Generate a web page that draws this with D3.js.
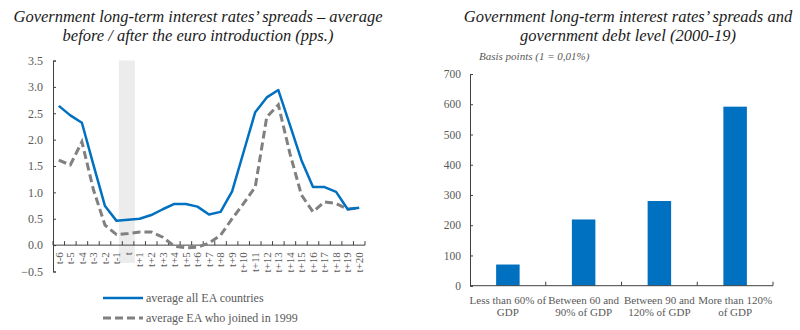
<html>
<head>
<meta charset="utf-8">
<style>
body { margin: 0; background: #ffffff; }
svg text { font-family: "Liberation Serif", "Times New Roman", serif; }
.title { font-style: italic; font-size: 16.5px; fill: #1a1a1a; }
.tick text { fill: #595959; }
</style>
</head>
<body>
<div id="chart"></div>
<script src="https://d3js.org/d3.v7.min.js"></script>
<script type="text/javascript">
// ---- data: left chart (pps.)
var periods = ["t-6","t-5","t-4","t-3","t-2","t-1","t","t+1","t+2","t+3","t+4","t+5","t+6","t+7",
               "t+8","t+9","t+10","t+11","t+12","t+13","t+14","t+15","t+16","t+17","t+18","t+19","t+20"];
var allEA = [2.64,2.46,2.32,1.52,0.74,0.46,0.48,0.50,0.57,0.68,0.78,0.78,0.73,0.58,
             0.63,1.02,1.77,2.52,2.80,2.94,2.28,1.61,1.10,1.10,1.01,0.68,0.71];
var joined1999 = [1.61,1.52,1.96,1.05,0.38,0.20,0.22,0.25,0.25,0.15,-0.02,-0.05,-0.04,0.04,
                  0.19,0.50,0.79,1.10,2.43,2.66,1.74,0.95,0.63,0.82,0.79,0.68,0.71];
var leftTicks = [-0.5,0,0.5,1,1.5,2,2.5,3,3.5];
var seriesNames = ["average all EA countries", "average EA who joined in 1999"];

// ---- data: right chart (basis points)
var debtGroups = [["Less than 60% of","GDP"],["Between 60 and","90% of GDP"],["Between 90 and","120% of GDP"],["More than 120%","of GDP"]];
var spreadBp = [70, 219, 280, 592];
var rightTicks = [0,100,200,300,400,500,600,700];

var blue = "#0070C0", grey = "#808080", axisCol = "#404040";
var serif = "Liberation Serif, Times New Roman, serif";

var svg = d3.select("#chart").append("svg")
  .attr("width", 800).attr("height", 330);

// ================= left chart =================
svg.append("text").attr("class","title").attr("text-anchor","middle")
  .attr("x", 198).attr("y", 22).text("Government long-term interest rates\u2019 spreads \u2013 average");
svg.append("text").attr("class","title").attr("text-anchor","middle")
  .attr("x", 198).attr("y", 41).text("before / after the euro introduction (pps.)");

var L = {left: 53, right: 365, top: 60.5, bottom: 271.5};
var x1 = d3.scaleBand().domain(periods).range([L.left, L.right]);
var y1 = d3.scaleLinear().domain([-0.5, 3.5]).range([L.bottom, L.top]);

// shaded euro-introduction column
var sx0 = x1("t-1") + x1.bandwidth()*0.7;
svg.append("rect")
  .attr("x", sx0).attr("y", y1(3.5))
  .attr("width", x1("t") + x1.bandwidth() + 1 - sx0)
  .attr("height", 263 - y1(3.5))
  .attr("fill", "#ececec");

// y axis
var gy1 = svg.append("g").attr("transform","translate("+L.left+",0)")
  .call(d3.axisRight(y1).tickValues(leftTicks).tickSize(3).tickFormat(d3.format(".1f")))
  .attr("font-family", serif);
gy1.select(".domain").attr("stroke", axisCol);
gy1.selectAll(".tick line").attr("stroke", axisCol);
gy1.selectAll(".tick text").attr("x", -10).attr("text-anchor","end")
  .style("font-size","12px").style("font-family", serif);

// x axis at zero
var gx1 = svg.append("g").attr("transform","translate(0,"+y1(0)+")");
gx1.append("line").attr("x1", L.left).attr("x2", L.right).attr("stroke", axisCol);
gx1.selectAll("line.tk").data(d3.range(periods.length + 1)).enter().append("line")
  .attr("class","tk")
  .attr("x1", function(i){ return L.left + i*x1.step(); })
  .attr("x2", function(i){ return L.left + i*x1.step(); })
  .attr("y1", 0).attr("y2", -4).attr("stroke", axisCol);
gx1.selectAll("text").data(periods).enter().append("text")
  .attr("transform", function(d){ return "translate("+(x1(d)+x1.bandwidth()/2+3.8)+",7) rotate(-90)"; })
  .attr("text-anchor","end")
  .style("font-size","11px").attr("fill","#595959")
  .text(function(d){ return d; });

var line1 = d3.line()
  .x(function(d,i){ return x1(periods[i]) + x1.bandwidth()/2; })
  .y(function(d){ return y1(d); });

svg.append("path").datum(joined1999).attr("d", line1)
  .attr("fill","none").attr("stroke", grey).attr("stroke-width", 3)
  .attr("stroke-dasharray","8,4");
svg.append("path").datum(allEA).attr("d", line1)
  .attr("fill","none").attr("stroke", blue).attr("stroke-width", 2.5)
  .attr("stroke-linejoin","round");

// legend
var leg = svg.append("g");
leg.append("line").attr("x1",103).attr("x2",143).attr("y1",298).attr("y2",298)
  .attr("stroke", blue).attr("stroke-width", 2.5);
leg.append("line").attr("x1",103).attr("x2",143).attr("y1",318).attr("y2",318)
  .attr("stroke", grey).attr("stroke-width", 3).attr("stroke-dasharray","8,4");
leg.selectAll("text").data(seriesNames).enter().append("text")
  .attr("x", 146).attr("y", function(d,i){ return 302 + i*20; })
  .style("font-size","12px").attr("fill","#595959")
  .text(function(d){ return d; });

// ================= right chart =================
svg.append("text").attr("class","title").attr("text-anchor","middle")
  .attr("x", 628).attr("y", 22).text("Government long-term interest rates\u2019 spreads and");
svg.append("text").attr("class","title").attr("text-anchor","middle")
  .attr("x", 628).attr("y", 41).text("government debt level (2000-19)");
svg.append("text").attr("x", 479).attr("y", 60)
  .style("font-size","11px").style("font-style","italic").attr("fill","#595959")
  .text("Basis points (1 = 0,01%)");

var R = {left: 470, right: 773, top: 74, bottom: 285.7};
var x2 = d3.scaleBand().domain(d3.range(debtGroups.length)).range([R.left, R.right]);
var y2 = d3.scaleLinear().domain([0, 700]).range([R.bottom, R.top]);

var gy2 = svg.append("g").attr("transform","translate("+R.left+",0)")
  .call(d3.axisRight(y2).tickValues(rightTicks).tickSize(3))
  .attr("font-family", serif);
gy2.select(".domain").attr("stroke", axisCol);
gy2.selectAll(".tick line").attr("stroke", axisCol);
gy2.selectAll(".tick text").attr("x", -9).attr("text-anchor","end")
  .style("font-size","11.5px").style("font-family", serif);

var bw = 23.5;
svg.selectAll("rect.bar").data(spreadBp).enter().append("rect")
  .attr("class","bar")
  .attr("x", function(d,i){ return x2(i) + x2.bandwidth()/2 - bw/2; })
  .attr("y", function(d){ return y2(d); })
  .attr("width", bw)
  .attr("height", function(d){ return y2(0) - y2(d); })
  .attr("fill", blue);

var gx2 = svg.append("g").attr("transform","translate(0,"+R.bottom+")");
gx2.append("line").attr("x1", R.left).attr("x2", R.right).attr("stroke", axisCol);
gx2.selectAll("line.tk").data(d3.range(1, debtGroups.length + 1)).enter().append("line")
  .attr("class","tk")
  .attr("x1", function(i){ return R.left + i*x2.step(); })
  .attr("x2", function(i){ return R.left + i*x2.step(); })
  .attr("y1", 0).attr("y2", -4).attr("stroke", axisCol);
var cat = gx2.selectAll("text").data(debtGroups).enter().append("text")
  .attr("text-anchor","middle")
  .style("font-size","11px").attr("fill","#595959");
cat.each(function(d,i){
  var t = d3.select(this);
  d.forEach(function(s,j){
    t.append("tspan").attr("x", x2(i) + x2.bandwidth()/2).attr("y", 18 + j*12).text(s);
  });
});
</script>
</body>
</html>
